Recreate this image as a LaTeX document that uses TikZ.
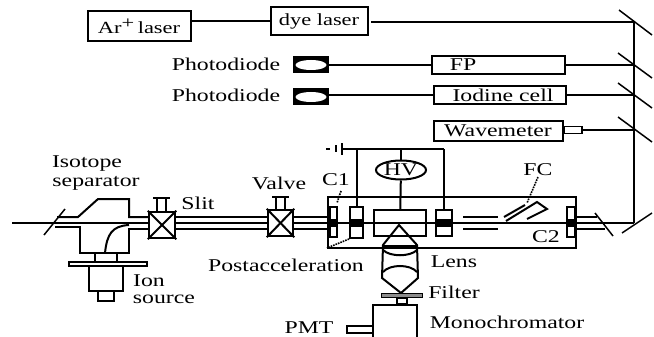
\documentclass[tikz,border=0pt]{standalone}
\usepackage{fontspec}
\setmainfont[FakeStretch=1.32]{Liberation Serif}
\usetikzlibrary{shapes.geometric}

\begin{document}
\begin{tikzpicture}[x=1pt,y=-1pt,line width=2pt,
	box_node/.style={rectangle,draw,inner sep=0pt,font=\fontsize{18}{18}\selectfont},
	part_node/.style={rectangle,draw,inner sep=0pt},
	diode_node/.style={rectangle,draw,fill=black,line width=1pt,inner sep=0pt,minimum width=35pt,minimum height=16pt},
	lens_node/.style={ellipse,fill=white,inner sep=0pt,minimum width=31pt,minimum height=10pt},
	lab_node/.style={inner sep=0pt,font=\fontsize{18}{18}\selectfont},
	mirror/.style={line width=1.5pt},
	dots/.style={line width=1.6pt,densely dotted}]
	\useasboundingbox (0,0) rectangle (654,337);

	% lasers and reference arms
	\node[box_node,minimum width=103pt,minimum height=30pt,font=\fontsize{17}{17}\selectfont] (ar) at (139,26) {Ar\raisebox{5pt}{+}\hspace{-2pt} laser};
	\node[box_node,minimum width=97pt,minimum height=28pt,font=\fontsize{17}{17}\selectfont] (dye) at (319,21) {dye laser};
	\node[diode_node] (pd1) at (311,65) {};
	\node[diode_node] (pd2) at (311,97) {};
	\node[lens_node] (el1) at (311,65) {};
	\node[lens_node] (el2) at (311,97) {};
	\node[box_node,minimum width=133pt,minimum height=18pt] (fp) at (498,65) {\hspace*{-70pt}FP};
	\node[box_node,minimum width=132pt,minimum height=18pt] (iod) at (500,95) {\hspace*{6pt}Iodine cell};
	\node[box_node,minimum width=129pt,minimum height=20pt] (wave) at (498,131) {Wavemeter};
	\node[part_node,line width=1.5pt,minimum width=18pt,minimum height=7pt] (tip) at (573,130) {};
	\node[lab_node] (ph1) at (226,64) {Photodiode};
	\node[lab_node] (ph2) at (226,95) {Photodiode};

	% mirrors
	\coordinate (m1) at (634,22);
	\coordinate (m2) at (634,65);
	\coordinate (m3) at (634,95);
	\coordinate (m4) at (634,130);
	\coordinate (m5) at (634,223);
	\draw[mirror] (619,10) -- (652,35);
	\draw[mirror] (618,53) -- (652,78);
	\draw[mirror] (618,83) -- (652,108);
	\draw[mirror] (618,117) -- (652,142);
	\draw[mirror] (622,233) -- (652,213);
	\draw[mirror] (595,213) -- (613,236);
	\draw[mirror] (65,209) -- (44,235);

	\draw (ar.east |- dye.west) -- (dye.west);
	\draw (371,22) -- (m1) -- (m5);
	\draw[line width=2.5pt] (pd1) -- (fp);
	\draw[line width=2.5pt] (iod.west -| pd2.east) -- (iod.west);
	\draw (fp) -- (m2);
	\draw (iod) -- (m3);
	\draw (tip) -- (m4);

	% isotope separator
	\coordinate (beamstart) at (12,223);
	\draw[line width=2.6pt] (beamstart) -- (m5);
	\draw (57,217) -- (78,217) -- (98,199) -- (129,199) -- (129,217) -- (149,217);
	\draw (55,227) -- (80,227) -- (80,253) -- (129,253) -- (129,229) -- (149,229);
	\draw (105,253) .. controls (107,234) and (112,226) .. (129,225);
	\draw (95,253) -- (95,262);
	\draw (117,253) -- (117,262);
	\node[part_node,minimum width=78pt,minimum height=4pt] (flange) at (108,264) {};
	\node[part_node,minimum width=34pt,minimum height=25pt] (src) at (106,278.5) {};
	\node[part_node,minimum width=16pt,minimum height=10pt] (srctip) at (106,296) {};

	% valves and pipes
	\node[part_node,line width=2.5pt,fill=white,minimum width=26pt,minimum height=26pt] (slit) at (162,225) {};
	\node[part_node,line width=2.5pt,fill=white,minimum width=25pt,minimum height=26pt] (valve) at (280.5,223) {};
	\draw (slit.north west) -- (slit.south east);
	\draw (slit.north east) -- (slit.south west);
	\draw (valve.north west) -- (valve.south east);
	\draw (valve.north east) -- (valve.south west);
	\draw (157,198) -- (157,212);
	\draw (166,198) -- (166,212);
	\draw (153,198) -- (170,198);
	\draw (276,197) -- (276,210);
	\draw (285,197) -- (285,210);
	\draw (272,197) -- (289,197);
	\draw (175,217) -- (268,217);
	\draw (175,229) -- (268,229);
	\draw (293,217) -- (330,217);
	\draw (293,229) -- (330,229);

	% chamber
	\node[part_node,minimum width=248pt,minimum height=51pt] (chamber) at (452,222.5) {};
	\node[part_node,minimum width=7pt,minimum height=30pt] (c1) at (333.5,222) {};
	\node[part_node,minimum width=13pt,minimum height=31pt] (pa) at (356.5,222.5) {};
	\node[part_node,minimum width=52pt,minimum height=26pt] (cen) at (400,223) {};
	\node[part_node,minimum width=16pt,minimum height=26pt] (ele) at (444,223) {};
	\node[part_node,minimum width=8pt,minimum height=30pt] (c2) at (571,222) {};
	\node[part_node,ellipse,minimum width=50pt,minimum height=19pt,font=\fontsize{18}{18}\selectfont] (hv) at (401,170) {HV};
	\fill (350,219) rectangle (363,227);
	\fill (436,219) rectangle (452,227);
	\fill (330,219) rectangle (337,227);
	\fill (567,219) rectangle (575,227);
	\coordinate (busl) at (342,149);
	\coordinate (busr) at (444,149);
	\coordinate (ptop) at (357,149);
	\draw (busl) -- (busr);
	\draw (342,143) -- (342,155);
	\draw (336,145) -- (336,152);
	\draw (326,149) -- (330,149);
	\draw (ptop) -- (ptop |- pa.north);
	\draw (401,149) -- (hv);
	\draw (hv) -- (cen);
	\draw (busr) -- (ele);
	\draw (463,217) -- (498,217);
	\draw (463,229) -- (498,229);
	\draw (504,217) -- (525,205);
	\draw (506,221) -- (537,202) -- (547,209) -- (527,219);
	\draw (575,217) -- (597,217);
	\draw (575,229) -- (605,229);

	% lens and monochromator
	\draw (399,225) -- (383,245) -- (382,278) -- (401,293) -- (418,278) -- (417,245) -- cycle;
	\draw[line width=3.5pt] (383,246.5) -- (417,246.5);
	\draw (383,250) .. controls (390,257) and (410,257) .. (417,250);
	\draw (383,272) .. controls (390,264) and (410,264) .. (417,272);
	\node[part_node,fill=black!45,line width=1pt,minimum width=41pt,minimum height=4pt] (filter) at (402,295) {};
	\node[part_node,line width=1.5pt,minimum width=10pt,minimum height=5pt] (slit2) at (402,301) {};
	\coordinate (mono) at (373,337);
	\draw (mono) -- (373,305) -- (417,305) -- (417,337);
	\node[part_node,minimum width=26pt,minimum height=7pt] (pmt) at (360,329.5) {};

	% labels
	\node[lab_node] (isotope) at (87,164) {Isotope};
	\node[lab_node] (sep) at (96,183) {separator};
	\node[lab_node] (sl) at (198,203) {Slit};
	\node[lab_node] (va) at (279,183) {Valve};
	\node[lab_node] (ion) at (149,281) {Ion};
	\node[lab_node] (sou) at (164,299) {source};
	\node[lab_node] (post) at (286,265) {Postacceleration};
	\node[lab_node] (lc1) at (336,180) {C1};
	\node[lab_node] (lc2) at (546,237) {C2};
	\node[lab_node] (fc) at (538,170) {FC};
	\node[lab_node] (lens) at (454,262) {Lens};
	\node[lab_node] (filt) at (454,292) {Filter};
	\node[lab_node] (mon) at (507,322) {Monochromator};
	\node[lab_node] (lp) at (309,328) {PMT};
	\coordinate (paend) at (327,248);
	\draw[dots] (fc.south) -- (527,203);
	\draw[dots] (341,191) -- (337,203);
	\draw[dots] (pa.south west) -- (paend);
\end{tikzpicture}
\end{document}
